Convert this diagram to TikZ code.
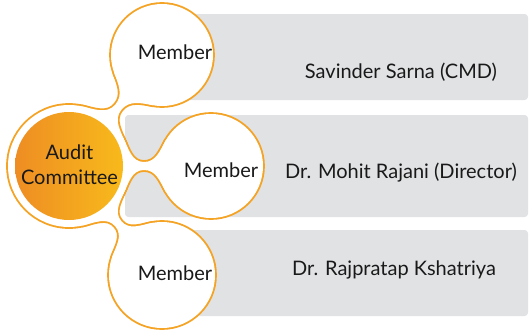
\documentclass[tikz,border=0pt]{standalone}
\usepackage{fontspec}
\setmainfont{Lato}
\usetikzlibrary{calc}
\definecolor{ringorange}{RGB}{244,163,36}
\definecolor{boxgrey}{RGB}{225,226,228}
\definecolor{auditdark}{RGB}{238,141,35}
\definecolor{auditlight}{RGB}{248,186,27}
\tikzstyle{namebox}=[fill=boxgrey,rounded corners=2.5pt]
\tikzstyle{ring}=[draw=ringorange,line width=2.8pt,line join=round]
\tikzstyle{hole}=[fill=white]
\tikzstyle{txt}=[font=\fontsize{15}{19}\selectfont,text=black!90,inner sep=0pt]
% neck between the audit circle and one member circle: centre, angle, radius, distance
\newcommand{\bridge}[4]{%
  ($(aud)+(#2+28:61)$) to[out=#2-62,in=#2+180] ($(aud)+(#2:#4)+(#2+90:4)$)
  to[out=#2,in=#2+240] ($(#1)+(#2+150:#3)$) -- ($(#1)+(#2+210:#3)$)
  to[out=#2+120,in=#2] ($(aud)+(#2:#4)+(#2-90:4)$)
  to[out=#2+180,in=#2+62] ($(aud)+(#2-28:61)$) -- cycle}

\begin{document}
\begin{tikzpicture}[x=0.75pt,y=0.75pt]
\useasboundingbox (0,0) rectangle (529,-329);
% grey boxes
\fill[namebox] (126,-14) rectangle (528,-100);
\fill[namebox] (125,-115) rectangle (528,-217);
\fill[namebox] (124,-230) rectangle (528,-316);

\coordinate (aud) at (69,-166);
\coordinate (mem1) at (162,-55);
\coordinate (mem2) at (211,-166);
\coordinate (mem3) at (162,-275);

% outline, then white inside
\foreach \c/\r in {aud/61,mem1/51,mem2/52,mem3/53}
  \draw[ring] (\c) circle[radius=\r];
\foreach \m/\a/\r/\d in {mem1/50/51/77,mem2/0/52/75,mem3/-49.5/53/76}
  \draw[ring] \bridge{\m}{\a}{\r}{\d};
\foreach \c/\r in {aud/61,mem1/51,mem2/52,mem3/53}
  \fill[hole] (\c) circle[radius=\r];
\foreach \m/\a/\r/\d in {mem1/50/51/77,mem2/0/52/75,mem3/-49.5/53/76}
  \fill[hole] \bridge{\m}{\a}{\r}{\d};

\shade[left color=auditdark,right color=auditlight] (aud) circle[radius=54];
\node[txt,align=center] (audtxt) at (69.5,-164.5) {Audit\\Committee};

\node[txt] (m1) at (175,-52) {Member};
\node[txt] (m2) at (221,-170) {Member};
\node[txt] (m3) at (175,-273) {Member};

\node[txt] (n1) at (401,-72) {Savinder Sarna (CMD)};
\node[txt] (n2) at (401,-173) {Dr. Mohit Rajani (Director)};
\node[txt] (n3) at (394,-270) {Dr. Rajpratap Kshatriya};
\end{tikzpicture}
\end{document}
